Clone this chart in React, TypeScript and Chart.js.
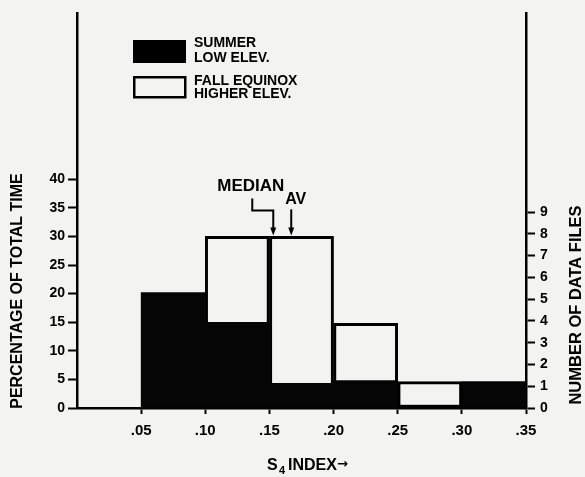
import React, { useEffect, useRef } from "react";
import { Chart, registerables } from "chart.js";

Chart.register(...registerables);

// ---- data ----
const binCenters = [0.075, 0.125, 0.175, 0.225, 0.275, 0.325];
const summerLowElev = [20.2, 15, 4.3, 4.8, 0, 4.6];
const fallHigherElev = [0, 30, 30, 14.8, 4.6, 0];
const xTickValues = [0.05, 0.1, 0.15, 0.2, 0.25, 0.3, 0.35];
const leftTickValues = [0, 5, 10, 15, 20, 25, 30, 35, 40];
const rightTickValues = [0, 1, 2, 3, 4, 5, 6, 7, 8, 9];
const medianValue = 0.153;
const averageValue = 0.167;
const medianBarTop = 30;
const legendLabels = [
  ["SUMMER", "LOW ELEV."],
  ["FALL EQUINOX", "HIGHER ELEV."],
];

const BG = "#f3f3f1";
const FONT = '"Liberation Sans", Arial, sans-serif';

const decorPlugin = {
  id: "decor",
  beforeDraw(chart: any) {
    const ctx = chart.ctx;
    ctx.save();
    ctx.fillStyle = BG;
    ctx.fillRect(0, 0, chart.width, chart.height);
    ctx.restore();
  },
  afterDraw(chart: any) {
    const ctx = chart.ctx;
    const xs = chart.scales.x;
    const ys = chart.scales.y;
    ctx.save();
    ctx.fillStyle = "#000";
    ctx.strokeStyle = "#000";

    // legend
    ctx.fillRect(133, 40, 53, 23);
    ctx.lineWidth = 2.5;
    ctx.fillStyle = BG;
    ctx.fillRect(134, 77, 51, 20);
    ctx.strokeRect(134.25, 77.25, 51, 20);
    ctx.fillStyle = "#000";
    ctx.font = `bold 14px ${FONT}`;
    ctx.textAlign = "left";
    ctx.textBaseline = "alphabetic";
    ctx.fillText(legendLabels[0][0], 194, 47);
    ctx.fillText(legendLabels[0][1], 194, 62);
    ctx.fillText(legendLabels[1][0], 194, 85);
    ctx.fillText(legendLabels[1][1], 194, 98);

    // median / av annotations
    const yTop = ys.getPixelForValue(medianBarTop) - 1;
    const mx = xs.getPixelForValue(medianValue);
    const ax = xs.getPixelForValue(averageValue);
    ctx.font = `bold 17px ${FONT}`;
    ctx.fillText("MEDIAN", mx - 56, yTop - 44);
    ctx.font = `bold 16px ${FONT}`;
    ctx.fillText("AV", ax - 6, yTop - 31);

    ctx.lineWidth = 2;
    ctx.beginPath();
    ctx.moveTo(mx - 21, yTop - 37);
    ctx.lineTo(mx - 21, yTop - 25);
    ctx.lineTo(mx, yTop - 25);
    ctx.lineTo(mx, yTop - 6);
    ctx.stroke();
    ctx.beginPath();
    ctx.moveTo(ax, yTop - 26);
    ctx.lineTo(ax, yTop - 6);
    ctx.stroke();
    const arrow = (x: number) => {
      ctx.beginPath();
      ctx.moveTo(x - 3, yTop - 8);
      ctx.lineTo(x + 3, yTop - 8);
      ctx.lineTo(x, yTop);
      ctx.closePath();
      ctx.fill();
    };
    arrow(mx);
    arrow(ax);

    // axis titles
    ctx.textAlign = "center";
    ctx.textBaseline = "middle";
    ctx.save();
    ctx.translate(18, 291);
    ctx.rotate(-Math.PI / 2);
    ctx.font = `bold 16px ${FONT}`;
    ctx.fillText("PERCENTAGE OF TOTAL TIME", 0, 0);
    ctx.restore();
    ctx.save();
    ctx.translate(576, 305);
    ctx.rotate(-Math.PI / 2);
    ctx.font = `bold 16.5px ${FONT}`;
    ctx.fillText("NUMBER OF DATA FILES", 0, 0);
    ctx.restore();

    ctx.textAlign = "left";
    ctx.textBaseline = "alphabetic";
    ctx.font = `bold 16px ${FONT}`;
    ctx.fillText("S", 267, 470);
    ctx.font = `bold 11px ${FONT}`;
    ctx.fillText("4", 279, 474);
    ctx.font = `bold 16px ${FONT}`;
    ctx.fillText("INDEX", 288, 470);
    ctx.font = `bold 13px "DejaVu Sans", sans-serif`;
    ctx.fillText("\u2192", 337, 468);

    ctx.restore();
  },
};

export default function App() {
  const ref = useRef<HTMLCanvasElement | null>(null);
  useEffect(() => {
    const canvas = ref.current;
    if (!canvas) return;
    const tickFont = (size: number) => ({ family: FONT, size, weight: "bold" as const });
    const chart = new Chart(canvas, {
      type: "bar",
      data: {
        datasets: [
          {
            label: "SUMMER LOW ELEV.",
            data: binCenters.map((x, i) => ({ x, y: summerLowElev[i] })),
            backgroundColor: "#050505",
            borderWidth: 0,
            grouped: false,
            barPercentage: 1,
            categoryPercentage: 1,
            yAxisID: "y",
          } as any,
          {
            label: "FALL EQUINOX HIGHER ELEV.",
            data: binCenters.map((x, i) => ({ x, y: fallHigherElev[i] })),
            backgroundColor: BG,
            borderColor: "#000",
            borderWidth: 3,
            borderSkipped: false,
            grouped: false,
            barPercentage: 1,
            categoryPercentage: 1,
            yAxisID: "y",
          } as any,
        ],
      },
      options: {
        responsive: false,
        animation: false,
        layout: { padding: { top: 11, left: 0, right: 0, bottom: 0 } },
        plugins: { legend: { display: false }, tooltip: { enabled: false } },
        scales: {
          x: {
            type: "linear",
            min: 0,
            max: 0.35,
            offset: false,
            position: "bottom",
            afterBuildTicks: (s: any) => {
              s.ticks = xTickValues.map((v) => ({ value: v }));
            },
            afterFit: (s: any) => {
              s.height = 69;
            },
            ticks: {
              autoSkip: false,
              maxRotation: 0,
              color: "#000",
              font: tickFont(15),
              padding: 8,
              callback: (v: any) => "." + Math.round(Number(v) * 100).toString().padStart(2, "0"),
            },
            grid: {
              display: true,
              offset: false,
              drawOnChartArea: false,
              drawTicks: true,
              tickLength: 6,
              tickWidth: 2,
              tickColor: "#000",
              color: "#000",
            },
            border: { display: true, color: "#000", width: 2.5 },
          },
          y: {
            type: "linear",
            position: "left",
            min: 0,
            max: 69,
            afterBuildTicks: (s: any) => {
              s.ticks = leftTickValues.map((v) => ({ value: v }));
            },
            afterFit: (s: any) => {
              s.width = 77;
            },
            ticks: { color: "#000", font: tickFont(14), padding: 3, autoSkip: false },
            grid: {
              display: true,
              drawOnChartArea: false,
              drawTicks: true,
              tickLength: 9,
              tickWidth: 2,
              tickColor: "#000",
              color: "#000",
            },
            border: { display: true, color: "#000", width: 2.5 },
          },
          y1: {
            type: "linear",
            position: "right",
            min: 0,
            max: 18.12,
            afterBuildTicks: (s: any) => {
              s.ticks = rightTickValues.map((v) => ({ value: v }));
            },
            afterFit: (s: any) => {
              s.width = 59;
            },
            ticks: { color: "#000", font: tickFont(14), padding: 5, autoSkip: false },
            grid: {
              display: true,
              drawOnChartArea: false,
              drawTicks: true,
              tickLength: 9,
              tickWidth: 2,
              tickColor: "#000",
              color: "#000",
            },
            border: { display: true, color: "#000", width: 2.5 },
          },
        },
      } as any,
      plugins: [decorPlugin],
    });
    return () => chart.destroy();
  }, []);
  return (
    <div style={{ position: "fixed", left: 0, top: 0, width: 585, height: 477 }}>
      <canvas ref={ref} width={585} height={477} style={{ display: "block" }} />
    </div>
  );
}
